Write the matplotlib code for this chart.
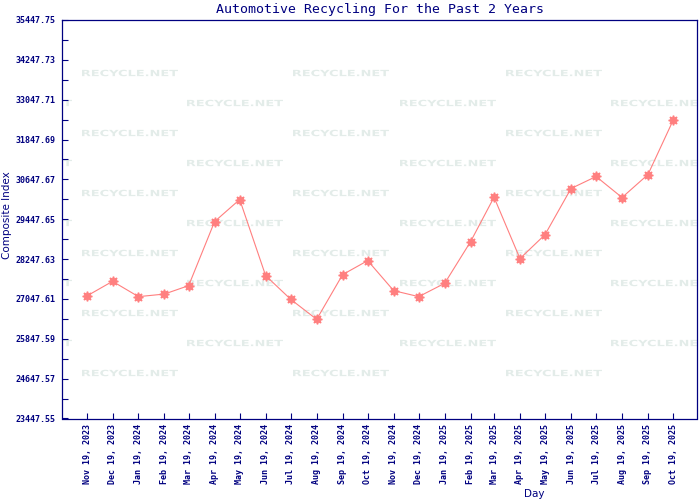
import matplotlib
matplotlib.use("Agg")
import matplotlib.pyplot as plt
from matplotlib.textpath import TextPath
from matplotlib.patches import PathPatch
from matplotlib.font_manager import FontProperties
from matplotlib.transforms import Affine2D, IdentityTransform
import datetime as dt

# ---- data ----
dates = ["2023-11-19", "2023-12-19", "2024-01-19", "2024-02-19", "2024-03-19",
         "2024-04-19", "2024-05-19", "2024-06-19", "2024-07-19", "2024-08-19",
         "2024-09-19", "2024-10-19", "2024-11-19", "2024-12-19", "2025-01-19",
         "2025-02-19", "2025-03-19", "2025-04-19", "2025-05-19", "2025-06-19",
         "2025-07-19", "2025-08-19", "2025-09-19", "2025-10-19"]
values = [27147, 27578, 27117, 27195, 27449, 29378, 30042, 27750, 27036, 26433,
          27780, 28202, 27298, 27117, 27518, 28775, 30111, 28263, 28986, 30373,
          30735, 30102, 30795, 32424]
y_ticks = [23447.55, 24647.57, 25847.59, 27047.61, 28247.63, 29447.65,
           30647.67, 31847.69, 33047.71, 34247.73, 35447.75]
y_tick_labels = ["23447.55", "24647.57", "25847.59", "27047.61", "28247.63",
                 "29447.65", "30647.67", "31847.69", "33047.71", "34247.73",
                 "35447.75"]
title = "Automotive Recycling For the Past 2 Years"
x_label = "Day"
y_label = "Composite Index"

NAVY = "#000080"
LINE = "#ff7f7f"
WM = "#e3ece9"

xd = [dt.datetime.strptime(d, "%Y-%m-%d") for d in dates]
x_labels = [d.strftime("%b %d, %Y") for d in xd]

W, H = 700, 500
fig = plt.figure(figsize=(7, 5), dpi=100)
L, R, T, B = 61.5, 696.5, 20.0, 418.5
ax = fig.add_axes([L / W, 1 - B / H, (R - L) / W, (B - T) / H])

# watermark
tp = TextPath((0, 0), "RECYCLE.NET", size=10,
              prop=FontProperties(family="DejaVu Sans", weight="bold"))
ext = tp.get_extents()
sx = 96.0 / ext.width
sy = 6.5 / ext.height
def add_wm(cx, cy):
    tr = (Affine2D().translate(-ext.x0, -ext.y0).scale(sx, sy)
          .translate(cx - 48, (H - cy) - 3.25) + IdentityTransform())
    p = PathPatch(tp, transform=tr, facecolor=WM, edgecolor="none", zorder=0.5)
    ax.add_artist(p)
for k in range(6):
    for cx in (130, 341, 554, 766):
        add_wm(cx, 73 + 60 * k)
for k in range(5):
    for cx in (24, 235, 448, 659):
        add_wm(cx, 103 + 60 * k)

ax.plot(xd, values, color=LINE, lw=0.8, marker=(8, 1, 0), ms=7,
        markerfacecolor=LINE, markeredgecolor=LINE, zorder=3)

ax.set_ylim(y_ticks[0], y_ticks[-1])
ax.set_xlim(xd[0] - dt.timedelta(days=31), xd[-1] + dt.timedelta(days=28))

ax.set_yticks(y_ticks)
ax.set_yticklabels(y_tick_labels)
minor = [(y_ticks[i] + y_ticks[i + 1]) / 2 for i in range(len(y_ticks) - 1)]
ax.set_yticks(minor, minor=True)
ax.set_xticks(xd)
ax.set_xticklabels(x_labels, rotation=90)

for lab in ax.get_yticklabels() + ax.get_xticklabels():
    lab.set_fontfamily("DejaVu Sans Mono")
    lab.set_fontsize(6)
    lab.set_fontweight("bold")
    lab.set_color(NAVY)

ax.tick_params(axis="both", which="both", direction="in", length=4,
               width=0.8, color=NAVY)
ax.tick_params(axis="y", pad=4)
ax.tick_params(axis="x", pad=4)
for s in ax.spines.values():
    s.set_color(NAVY)
    s.set_linewidth(0.9)

fig.text(379.5 / W, 1 - 9 / H, title, ha="center", va="center",
         family="DejaVu Sans Mono", fontsize=9.5, color=NAVY)
fig.text(534 / W, 1 - 494 / H, x_label, ha="center", va="center",
         family="DejaVu Sans", fontsize=7.5, color=NAVY)
fig.text(7 / W, 1 - 215 / H, y_label, ha="center", va="center", rotation=90,
         family="DejaVu Sans", fontsize=7.5, color=NAVY)

fig.savefig("out.png", dpi=100, facecolor="white")
